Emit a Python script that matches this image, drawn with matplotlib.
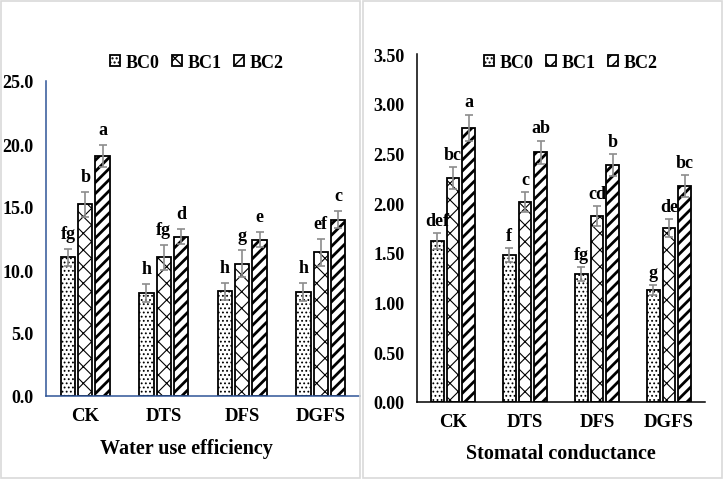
import matplotlib
matplotlib.use("Agg")
import matplotlib.pyplot as plt
import numpy as np
from matplotlib.patches import Rectangle

plt.rcParams['font.family'] = ['Liberation Serif', 'DejaVu Serif']
plt.rcParams['font.weight'] = 'bold'

# data
groups = ['CK', 'DTS', 'DFS', 'DGFS']
series = ['BC0', 'BC1', 'BC2']

wue = [[11.0, 8.2, 8.3, 8.25],
       [15.2, 11.0, 10.5, 11.4],
       [19.05, 12.65, 12.4, 14.0]]
wue_err = [[0.7, 0.7, 0.7, 0.7],
           [1.0, 1.0, 1.05, 1.05],
           [0.9, 0.6, 0.6, 0.7]]
wue_letters = [['fg', 'h', 'h', 'h'],
               ['b', 'fg', 'g', 'ef'],
               ['a', 'd', 'e', 'c']]

gs = [[1.62, 1.48, 1.29, 1.13],
      [2.25, 2.01, 1.87, 1.75],
      [2.76, 2.51, 2.38, 2.17]]
gs_err = [[0.08, 0.07, 0.07, 0.05],
          [0.11, 0.10, 0.10, 0.09],
          [0.13, 0.12, 0.11, 0.11]]
gs_letters = [['def', 'f', 'fg', 'g'],
              ['bc', 'c', 'cd', 'de'],
              ['a', 'ab', 'b', 'bc']]

hatches = ['....', 'xx', '///']
hatch_lw = [0.8, 0.8, 2.0]

fig = plt.figure(figsize=(7.24, 4.81), dpi=100)

# light panel frames
fig.patches.append(Rectangle((0.001, 0.004), 0.496, 0.992, transform=fig.transFigure,
                             fill=False, edgecolor='#d9d9d9', lw=1.2))
fig.patches.append(Rectangle((0.501, 0.004), 0.496, 0.992, transform=fig.transFigure,
                             fill=False, edgecolor='#d9d9d9', lw=1.2))


def draw(ax, vals, errs, letters, ymax, fmt, axcol, letter_off):
    x = np.arange(len(groups))
    w = 0.18
    step = 0.22
    for i in range(len(series)):
        plt.rcParams['hatch.linewidth'] = hatch_lw[i]
        ax.bar(x + (i - 1) * step, vals[i], w, color='white', edgecolor='black',
               hatch=hatches[i], lw=1.3, label=series[i], zorder=2)
        ax.errorbar(x + (i - 1) * step, vals[i], yerr=errs[i], fmt='none',
                    ecolor='#8c8c8c', elinewidth=1.2, capsize=3, capthick=1.2, zorder=3)
        for j in range(len(groups)):
            ax.annotate(letters[i][j], (x[j] + (i - 1) * step, vals[i][j] + errs[i][j]),
                        xytext=(0, letter_off), textcoords='offset points',
                        ha='center', va='bottom', fontsize=13, fontweight='bold')
    ax.set_xlim(-0.5, len(groups) - 0.5)
    ax.set_ylim(0, ymax)
    ax.set_xticks(x)
    ax.set_xticklabels(groups, fontsize=13.5, fontweight='bold')
    ax.set_yticks(np.linspace(0, ymax, 8 if ymax < 5 else 6))
    ax.yaxis.set_major_formatter(plt.FormatStrFormatter(fmt))
    ax.tick_params(axis='both', length=0)
    ax.tick_params(axis='y', pad=9, labelsize=13)
    ax.tick_params(axis='x', pad=8)
    for s in ['top', 'right']:
        ax.spines[s].set_visible(False)
    for s in ['left', 'bottom']:
        ax.spines[s].set_color(axcol)
        ax.spines[s].set_linewidth(1.1)
    plt.rcParams['hatch.linewidth'] = 1.0


leg_kw = dict(loc='center', bbox_transform=fig.transFigure, ncol=3, frameon=False,
              handlelength=0.55, handleheight=0.55, handletextpad=0.3,
              columnspacing=0.7, prop={'size': 13, 'weight': 'bold'})

ax1 = fig.add_axes([46 / 724, 84 / 481, 314 / 724, 315 / 481])
draw(ax1, wue, wue_err, wue_letters, 25, '%.1f', '#2f5597', 5)
ax1.legend(bbox_to_anchor=(197 / 724, 1 - 63 / 481), **leg_kw)
fig.text(186 / 724, 1 - 449 / 481, 'Water use efficiency', ha='center', va='center',
         fontsize=14.5, fontweight='bold')

ax2 = fig.add_axes([417 / 724, 78 / 481, 288 / 724, 348 / 481])
draw(ax2, gs, gs_err, gs_letters, 3.5, '%.2f', 'black', 3)
ax2.legend(bbox_to_anchor=(571 / 724, 1 - 63 / 481), **leg_kw)
fig.text(561 / 724, 1 - 454 / 481, 'Stomatal conductance', ha='center', va='center',
         fontsize=14.5, fontweight='bold')

fig.savefig('out.png', dpi=100)
